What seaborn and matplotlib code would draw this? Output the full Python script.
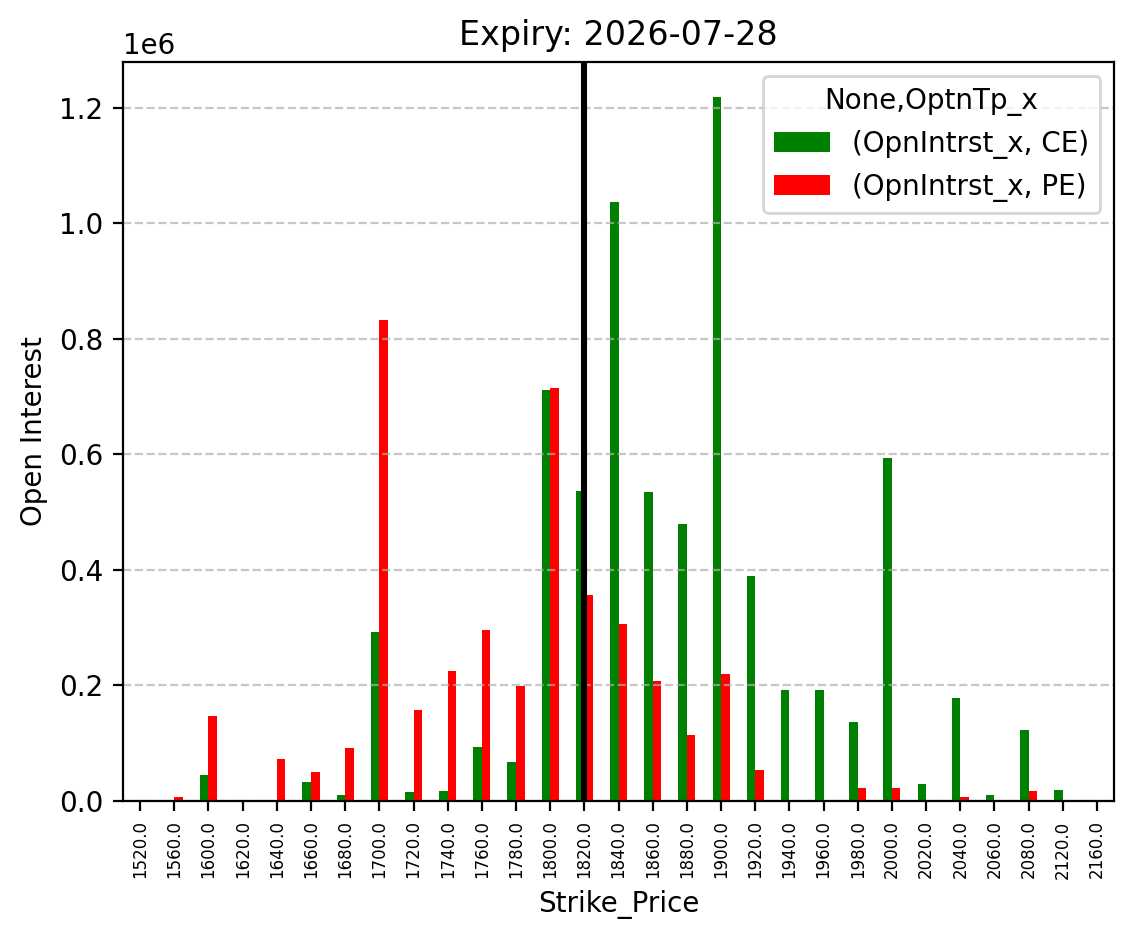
import pandas as pd
import numpy as np
import matplotlib.pyplot as plt
import seaborn as sns

# open interest per strike
strikes = [1520, 1560, 1600, 1620, 1640, 1660, 1680, 1700, 1720, 1740,
           1760, 1780, 1800, 1820, 1840, 1860, 1880, 1900, 1920, 1940,
           1960, 1980, 2000, 2020, 2040, 2060, 2080, 2120, 2160]
ce_oi = [1000, 2000, 45000, 0, 0, 33000, 10500, 293000, 15000, 18000,
         94000, 67000, 711000, 537000, 1037000, 534000, 480000, 1218000, 390000, 192000,
         192000, 136000, 594000, 29000, 178000, 11000, 123000, 19000, 0]
pe_oi = [2000, 7000, 147000, 0, 73000, 50000, 92000, 832000, 157000, 225000,
         296000, 199000, 714000, 357000, 306000, 208000, 115000, 219000, 53000, 0,
         0, 23000, 22000, 0, 6500, 0, 17000, 0, 0]
atm_strike = 1820
expiry = '2026-07-28'

labels = [f'{float(s):.1f}' for s in strikes]
df = pd.DataFrame({
    'Strike_Price': labels * 2,
    'oi': ce_oi + pe_oi,
    'type': ['(OpnIntrst_x, CE)'] * len(strikes) + ['(OpnIntrst_x, PE)'] * len(strikes),
})

fig, ax = plt.subplots(figsize=(5.67, 4.695), dpi=200)
fig.subplots_adjust(left=0.1085, right=0.9824, top=0.934, bottom=0.147)

sns.barplot(data=df, x='Strike_Price', y='oi', hue='type', order=labels,
            palette=['green', 'red'], saturation=1, width=0.5, linewidth=0, ax=ax)

ax.axvline(labels.index(f'{float(atm_strike):.1f}'), color='black', linewidth=2.2)

ax.grid(axis='y', linestyle='--', alpha=0.7)
ax.set_axisbelow('line')
ax.tick_params(axis='x', labelrotation=90, labelsize=6)
ax.set_xlabel('Strike_Price')
ax.set_ylabel('Open Interest')
ax.set_title(f'Expiry: {expiry}')
ax.legend(title='None,OptnTp_x', loc='upper right')

fig.savefig('out.png', dpi=200)
